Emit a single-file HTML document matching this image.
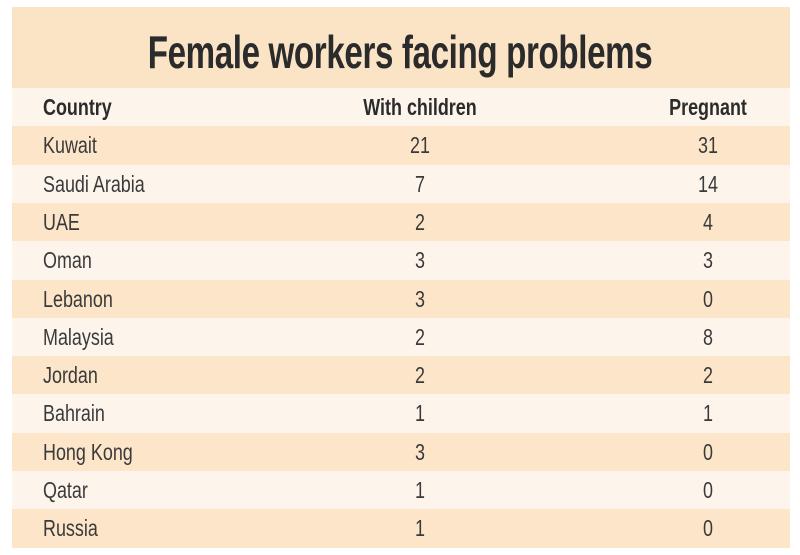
<!DOCTYPE html>
<html><head><meta charset="utf-8"><style>
body{margin:0;background:#fff;width:800px;height:555px;overflow:hidden;font-family:"Liberation Sans",sans-serif;}
.box{position:absolute;left:12px;top:7px;width:778px;height:541px;background:#fdf5ec;}
.title{position:absolute;left:0;top:7px;width:800px;height:81px;}
.title div{position:absolute;left:12px;width:778px;top:0;height:81px;background:#fbe3c6;}
.title span{position:absolute;left:400px;top:18px;transform:translateX(-50%) scaleX(0.72);white-space:nowrap;font-weight:bold;font-size:46px;color:#2b2b2b;letter-spacing:-0.5px;}
.row{position:absolute;left:12px;width:778px;height:38.3px;}
.row.p{background:#fce5c9;}
.t{position:absolute;top:6px;font-size:23px;color:#3a3a3a;white-space:nowrap;transform-origin:left center;transform:scaleX(0.78);}
.c{transform-origin:center;transform:translateX(-50%) scaleX(0.78);}
.h{font-weight:bold;color:#2b2b2b;}
</style></head><body>
<div class="box"></div>
<div class="title"><div></div><span>Female workers facing problems</span></div>
<div id="rows"></div>
<script>
var d=[["Country","With children","Pregnant"],["Kuwait","21","31"],["Saudi Arabia","7","14"],["UAE","2","4"],["Oman","3","3"],["Lebanon","3","0"],["Malaysia","2","8"],["Jordan","2","2"],["Bahrain","1","1"],["Hong Kong","3","0"],["Qatar","1","0"],["Russia","1","0"]];
var h="";
d.forEach(function(r,i){var y=88+i*38.3;var cl=i==0?" h":"";
h+='<div class="row'+(i%2?' p':'')+'" style="top:'+y+'px"></div>';
h+='<div class="t'+cl+'" style="left:43px;top:'+(y+6)+'px">'+r[0]+'</div>';
h+='<div class="t c'+cl+'" style="left:420px;top:'+(y+6)+'px">'+r[1]+'</div>';
h+='<div class="t c'+cl+'" style="left:708px;top:'+(y+6)+'px">'+r[2]+'</div>';});
document.getElementById("rows").innerHTML=h;
</script>
</body></html>
